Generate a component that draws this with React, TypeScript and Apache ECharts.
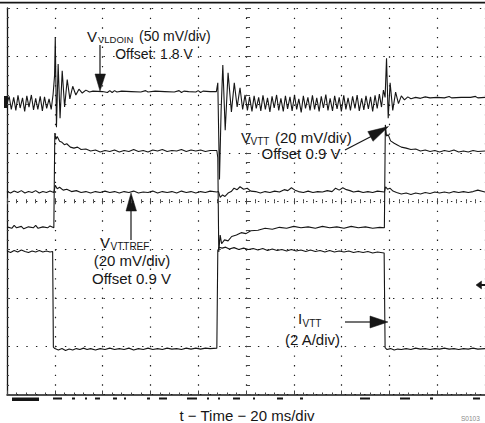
import React, { useEffect, useRef } from "react";
import * as echarts from "echarts";

// time in ms (20 ms/div), value in screen divisions (0..8, bottom to top)
const timeMin = 0;
const timeMax = 200;
const timeStep = 20;
const divMin = 0;
const divMax = 8;

const xTitle = "t − Time − 20 ms/div";

const vldoin: number[][] = [
  [0, 6.02], [0.9, 6.17], [1.8, 5.9], [2.8, 6.15], [3.7, 5.88], [4.6, 6.19], [5.5, 5.93], [6.5, 6.14], [7.4, 5.86], [8.3, 6.18],
  [9.2, 5.95], [10.2, 6.2], [11.1, 5.89], [12, 6.13], [12.9, 5.9], [13.9, 6.17], [14.8, 5.87], [15.7, 6.16], [16.6, 5.92], [17.6, 6.12],
  [18.5, 5.9], [19.3, 6.22], [19.9, 6.6], [20.2, 7.4], [20.7, 5.53], [21.4, 6.84], [22.2, 5.72], [23.1, 6.7], [24.1, 5.95], [25.2, 6.52],
  [26.3, 6.12], [27.5, 6.38], [28.8, 6.2], [30.1, 6.32], [31.5, 6.24], [33, 6.3], [34.5, 6.26], [36, 6.28], [40, 6.27], [42, 6.25],
  [43, 6.29], [44, 6.25], [45, 6.29], [46, 6.26], [48, 6.28], [52, 6.27], [56, 6.26], [58, 6.29], [59, 6.26], [62, 6.28],
  [66, 6.27], [70, 6.26], [72, 6.29], [73, 6.25], [74, 6.28], [76, 6.27], [79, 6.26], [80, 6.29], [81, 6.25], [82, 6.28],
  [85, 6.27], [87.6, 6.27], [88.2, 6.45], [88.9, 4.45], [89.6, 5.9], [90.3, 6.82], [91.3, 5.47], [92.5, 6.66], [93.9, 5.85], [95.1, 6.45],
  [96.3, 5.95], [97.5, 6.35], [98.6, 5.9], [99.6, 6.2], [100.6, 5.88], [101.5, 6.16], [102.5, 5.86], [103.4, 6.18], [104.3, 5.92], [105.3, 6.15],
  [106.2, 5.87], [107.1, 6.19], [108.1, 5.9], [109, 6.14], [110, 5.85], [110.9, 6.17], [111.8, 5.93], [112.8, 6.2], [113.7, 5.88], [114.6, 6.13],
  [115.6, 5.86], [116.5, 6.18], [117.4, 5.91], [118.4, 6.16], [119.3, 5.87], [120.3, 6.2], [121.2, 5.9], [122.1, 6.12], [123.1, 5.84], [124, 6.18],
  [124.9, 5.92], [125.9, 6.15], [126.8, 5.88], [127.8, 6.19], [128.7, 5.9], [129.6, 6.14], [130.6, 5.86], [131.5, 6.17], [132.4, 5.93], [133.4, 6.21],
  [134.3, 5.88], [135.2, 6.13], [136.2, 5.87], [137.1, 6.18], [138.1, 5.91], [139, 6.15], [139.9, 5.86], [140.9, 6.19], [141.8, 5.9], [142.7, 6.14],
  [143.7, 5.88], [144.6, 6.17], [145.6, 5.92], [146.5, 6.2], [147.4, 5.87], [148.4, 6.13], [149.3, 5.89], [150.2, 6.18], [151.2, 5.91], [152.1, 6.16],
  [153, 5.86], [154, 6.19], [154.9, 5.92], [155.8, 6.22], [156.7, 5.95], [157.5, 6.3], [158.2, 6.15], [158.8, 6.96], [159.5, 5.72], [160.3, 6.45],
  [161.4, 5.88], [162.6, 6.26], [163.8, 6.02], [165, 6.18], [166.3, 6.1], [167.7, 6.16], [169, 6.12], [171, 6.15], [173, 6.13], [175, 6.16],
  [177, 6.14], [180, 6.15], [183, 6.14], [185, 6.17], [186, 6.14], [190, 6.15], [194, 6.15], [196, 6.17], [197, 6.14], [200, 6.15],
];

const vtt: number[][] = [
  [0, 3.47], [2, 3.44], [3, 3.5], [4, 3.45], [6, 3.48], [7, 3.43], [9, 3.47], [11, 3.45], [12, 3.5], [13, 3.44],
  [15, 3.47], [17, 3.45], [18, 3.49], [19.6, 3.45], [20, 5.41], [20.5, 5.28], [21, 5.34], [22, 5.24], [23, 5.22], [24, 5.17],
  [25, 5.19], [26.5, 5.12], [28, 5.1], [29.5, 5.12], [31, 5.07], [33, 5.08], [35, 5.04], [37, 5.06], [39, 5.02], [41, 5.05],
  [43, 5.03], [45, 5.06], [47, 5.02], [49, 5.05], [51, 5.03], [53, 5.07], [55, 5.03], [57, 5.05], [59, 5.02], [61, 5.06],
  [63, 5.04], [65, 5.07], [67, 5.03], [69, 5.05], [71, 5.04], [73, 5.07], [75, 5.03], [77, 5.06], [79, 5.04], [81, 5.06],
  [83, 5.03], [85, 5.05], [87.8, 5.05], [88.2, 4.9], [88.6, 2.95], [89.2, 3.3], [89.8, 3.12], [91, 3.2], [92.5, 3.18], [94, 3.27],
  [96, 3.3], [98, 3.35], [100, 3.33], [102, 3.39], [105, 3.4], [108, 3.44], [111, 3.42], [114, 3.46], [117, 3.44], [120, 3.48],
  [123, 3.45], [126, 3.47], [129, 3.44], [132, 3.48], [135, 3.45], [138, 3.47], [141, 3.44], [144, 3.48], [147, 3.45], [150, 3.47],
  [153, 3.44], [156, 3.46], [157.9, 3.45], [158.3, 5.58], [158.8, 5.35], [159.5, 5.38], [160.5, 5.25], [162, 5.2], [163.5, 5.16], [165, 5.12],
  [167, 5.1], [169, 5.07], [171, 5.08], [173, 5.04], [175, 5.06], [177, 5.03], [179, 5.05], [181, 5.02], [183, 5.05], [185, 5.03],
  [187, 5.06], [189, 5.02], [191, 5.04], [193, 5.02], [195, 5.05], [197, 5.03], [200, 5.04],
];

const vttref: number[][] = [
  [0, 4.2], [1.5, 4.17], [3, 4.21], [4.5, 4.18], [6, 4.22], [7.5, 4.17], [9, 4.2], [10.5, 4.18], [12, 4.22], [13.5, 4.17],
  [15, 4.2], [16.5, 4.18], [18, 4.21], [19.6, 4.18], [20.2, 4.33], [21, 4.26], [22, 4.29], [23.5, 4.23], [25, 4.25], [27, 4.2],
  [29, 4.22], [31, 4.18], [33, 4.2], [35, 4.17], [37, 4.2], [39, 4.18], [41, 4.21], [43, 4.18], [45, 4.2], [47, 4.17],
  [49, 4.2], [51, 4.18], [53, 4.21], [55, 4.17], [57, 4.19], [59, 4.18], [61, 4.21], [63, 4.17], [65, 4.2], [67, 4.18],
  [69, 4.2], [71, 4.17], [73, 4.21], [75, 4.18], [77, 4.2], [79, 4.17], [81, 4.2], [83, 4.18], [85, 4.21], [87.8, 4.19],
  [88.5, 4.2], [89.2, 4.08], [90.2, 4.13], [91.2, 4.1], [92.5, 4.17], [93.8, 4.2], [95, 4.27], [96.3, 4.24], [97.5, 4.3], [99, 4.25],
  [100.5, 4.27], [102, 4.21], [104, 4.2], [106, 4.17], [108, 4.2], [110, 4.18], [112, 4.21], [114, 4.19], [116, 4.24], [117.5, 4.22],
  [119, 4.28], [120.5, 4.23], [122, 4.2], [124, 4.18], [126, 4.21], [128, 4.18], [130, 4.2], [132, 4.19], [134, 4.22], [136, 4.2],
  [137.5, 4.27], [139, 4.23], [140.5, 4.28], [142, 4.24], [143.5, 4.22], [145, 4.19], [147, 4.21], [149, 4.18], [151, 4.2], [153, 4.18],
  [155, 4.21], [157.9, 4.19], [158.4, 4.3], [159.2, 4.25], [160.2, 4.27], [161.5, 4.21], [163, 4.18], [165, 4.15], [167, 4.17], [169, 4.14],
  [171, 4.17], [173, 4.15], [175, 4.18], [177, 4.16], [179, 4.19], [181, 4.17], [183, 4.19], [185, 4.17], [187, 4.2], [189, 4.18],
  [191, 4.2], [193, 4.18], [195, 4.2], [197, 4.23], [200, 4.19],
];

const ivtt: number[][] = [
  [0, 2.97], [1.5, 2.94], [3, 2.98], [4.5, 2.95], [6, 2.99], [7.5, 2.96], [9, 2.94], [10.5, 2.97], [12, 2.95], [13.5, 2.98],
  [15, 2.95], [16.5, 2.97], [18, 2.95], [19.1, 2.96], [19.4, 0.98], [20, 0.95], [21.5, 0.92], [23, 0.95], [24.5, 0.91], [26, 0.94],
  [27.5, 0.92], [29, 0.95], [30.5, 0.93], [32, 0.96], [33.5, 0.93], [35, 0.95], [37, 0.92], [39, 0.95], [41, 0.93], [43, 0.96],
  [45, 0.93], [47, 0.95], [49, 0.93], [51, 0.96], [53, 0.92], [55, 0.95], [57, 0.93], [59, 0.96], [61, 0.93], [63, 0.95],
  [65, 0.93], [67, 0.96], [69, 0.94], [71, 0.95], [73, 0.93], [75, 0.96], [77, 0.94], [79, 0.96], [81, 0.94], [83, 0.96],
  [85, 0.95], [87.8, 0.96], [88.2, 2.98], [88.8, 3.05], [90, 3.03], [91.5, 3.05], [93, 3.01], [95, 3.04], [97, 3.0], [99, 3.03],
  [101, 3.0], [103, 3.02], [105, 2.99], [107, 3.02], [109, 2.98], [111, 3.01], [113, 2.98], [115, 3.0], [117, 2.97], [119, 3.0],
  [121, 2.97], [123, 2.99], [125, 2.96], [127, 2.99], [129, 2.96], [131, 2.98], [133, 2.95], [135, 2.98], [137, 2.95], [139, 2.97],
  [141, 2.95], [143, 2.97], [145, 2.94], [147, 2.96], [149, 2.94], [151, 2.96], [153, 2.93], [155, 2.95], [157.8, 2.93], [158.2, 0.97],
  [159, 0.93], [160.5, 0.95], [162, 0.92], [163.5, 0.94], [165, 0.93], [167, 0.95], [169, 0.93], [171, 0.96], [173, 0.94], [175, 0.95],
  [177, 0.93], [179, 0.95], [181, 0.94], [183, 0.96], [185, 0.94], [187, 0.95], [189, 0.93], [191, 0.95], [193, 0.94], [195, 0.96],
  [197, 0.94], [200, 0.95],
];

// cut-off scope readout under the screen (decoration)
const readoutDashes: number[][] = [
  [12, 39], [53, 62], [72, 75], [85, 87], [95, 100], [113, 117], [124, 126], [147, 150], [159, 167], [187, 197],
  [207, 209], [218, 220], [233, 240], [253, 255], [277, 283], [300, 303], [360, 370], [400, 410], [430, 433], [473, 480],
];

const FONT = '"Liberation Sans", Arial, Helvetica, sans-serif';
const INK = "#161616";

function txt(text: string, x: number, y: number, size: number, align = "left", fill = INK) {
  return {
    type: "text",
    silent: true,
    style: {
      text,
      x,
      y,
      fill,
      font: `${size}px ${FONT}`,
      textAlign: align,
      textVerticalAlign: "middle",
    },
  };
}

function seg(x1: number, y1: number, x2: number, y2: number, w = 1.2) {
  return {
    type: "line",
    silent: true,
    shape: { x1, y1, x2, y2 },
    style: { stroke: INK, lineWidth: w },
  };
}

function tri(points: number[][]) {
  return {
    type: "polygon",
    silent: true,
    shape: { points },
    style: { fill: INK, stroke: INK, lineWidth: 0.5 },
  };
}

export default function App() {
  const ref = useRef<HTMLDivElement>(null);

  useEffect(() => {
    const chart = echarts.init(ref.current!, null, { renderer: "svg" });

    const dotted = { type: [1.4, 8.25], color: "#1e1e1e", width: 1.2 };
    const hideLabel = { show: false };
    const tickStyle = { color: "#444", width: 1 };

    const centerX = (position: string) => ({
      type: "value",
      gridIndex: 0,
      position,
      offset: -193.25,
      min: timeMin,
      max: timeMax,
      interval: timeStep,
      axisLine: { show: false },
      axisLabel: hideLabel,
      splitLine: { show: false },
      axisTick: { show: true, length: 3, lineStyle: tickStyle },
      minorTick: { show: true, splitNumber: 5, length: 2, lineStyle: tickStyle },
    });
    const centerY = (position: string) => ({
      type: "value",
      gridIndex: 0,
      position,
      offset: -241,
      min: divMin,
      max: divMax,
      interval: 1,
      axisLine: { show: false },
      axisLabel: hideLabel,
      splitLine: { show: false },
      axisTick: { show: true, length: 3, lineStyle: tickStyle },
      minorTick: { show: true, splitNumber: 5, length: 2, lineStyle: tickStyle },
    });

    const traceStyle = { color: INK, width: 1.1 };
    const mk = (name: string, data: number[][]) => ({
      name,
      type: "line",
      xAxisIndex: 0,
      yAxisIndex: 0,
      data,
      showSymbol: false,
      symbol: "none",
      silent: true,
      lineStyle: traceStyle,
      z: 5,
    });

    const graphics: any[] = [
      seg(0, 2.7, 485, 2.7, 1.8),
      { type: "rect", silent: true, shape: { x: 4, y: 96, width: 4, height: 12 }, style: { fill: INK } },
      // right ground marker
      tri([[476, 285], [481.5, 281], [481.5, 289]]),
      seg(481, 285, 485, 285, 2),
      // labels
      txt("V", 87, 36, 15),
      txt("VLDOIN", 98, 39.5, 9.5),
      txt("(50 mV/div)", 139, 36, 14),
      txt("Offset: 1.8 V", 154, 53.5, 14, "center"),
      seg(100, 45, 100, 76),
      tri([[95, 74], [105.5, 74], [100, 91]]),

      txt("V", 241, 137.5, 15),
      txt("VTT", 250.5, 141, 10),
      txt("(20 mV/div)", 275, 137.5, 15),
      txt("Offset 0.9 V", 301, 153, 15, "center"),
      seg(345, 150, 373, 135.5),
      tri([[373, 141.3], [367.8, 131.6], [388.5, 126.5]]),

      txt("V", 100, 242.5, 15),
      txt("VTTREF", 110.5, 246, 10),
      txt("(20 mV/div)", 132, 260.5, 15, "center"),
      txt("Offset 0.9 V", 131.5, 278.5, 15, "center"),
      seg(131, 240, 131, 208),
      tri([[126, 211], [136.5, 211], [131, 193]]),

      txt("I", 298, 318.5, 15),
      txt("VTT", 302.5, 323, 10),
      txt("(2 A/div)", 312.5, 339.5, 15, "center"),
      seg(345, 322, 372, 322),
      tri([[370, 316], [370, 328], [388, 322]]),

      txt(xTitle, 247, 415.5, 15, "center"),
      txt("S0103", 461, 418, 6.5, "left", "#8a8a8a"),
    ];
    readoutDashes.forEach(([a, b]) => {
      graphics.push({
        type: "rect",
        silent: true,
        shape: { x: a, y: 397.5, width: b - a, height: a === 12 ? 3.5 : 2 },
        style: { fill: INK },
      });
    });

    chart.setOption({
      animation: false,
      backgroundColor: "#ffffff",
      grid: { left: 7, top: 8, width: 482, height: 386.5, containLabel: false },
      xAxis: [
        {
          type: "value",
          position: "bottom",
          min: timeMin,
          max: timeMax,
          interval: timeStep,
          axisLine: { show: true, onZero: false, lineStyle: { color: INK, width: 1.5 } },
          axisLabel: hideLabel,
          axisTick: { show: true, inside: true, length: 4, lineStyle: tickStyle },
          minorTick: { show: true, splitNumber: 5, length: 2, lineStyle: tickStyle },
          splitLine: { show: true, lineStyle: dotted },
        },
        centerX("top"),
        centerX("bottom"),
      ],
      yAxis: [
        {
          type: "value",
          position: "left",
          min: divMin,
          max: divMax,
          interval: 1,
          axisLine: { show: true, onZero: false, lineStyle: { color: INK, width: 1.3 } },
          axisLabel: hideLabel,
          axisTick: { show: true, inside: true, length: 3, lineStyle: tickStyle },
          minorTick: { show: true, splitNumber: 5, length: 2, lineStyle: tickStyle },
          splitLine: { show: true, lineStyle: dotted },
        },
        centerY("left"),
        centerY("right"),
      ],
      series: [mk("VLDOIN", vldoin), mk("VTT", vtt), mk("VTTREF", vttref), mk("IVTT", ivtt)],
      graphic: graphics,
    });

    return () => chart.dispose();
  }, []);

  return (
    <div
      ref={ref}
      style={{ position: "fixed", left: 0, top: 0, width: 485, height: 423, background: "#fff" }}
    />
  );
}
